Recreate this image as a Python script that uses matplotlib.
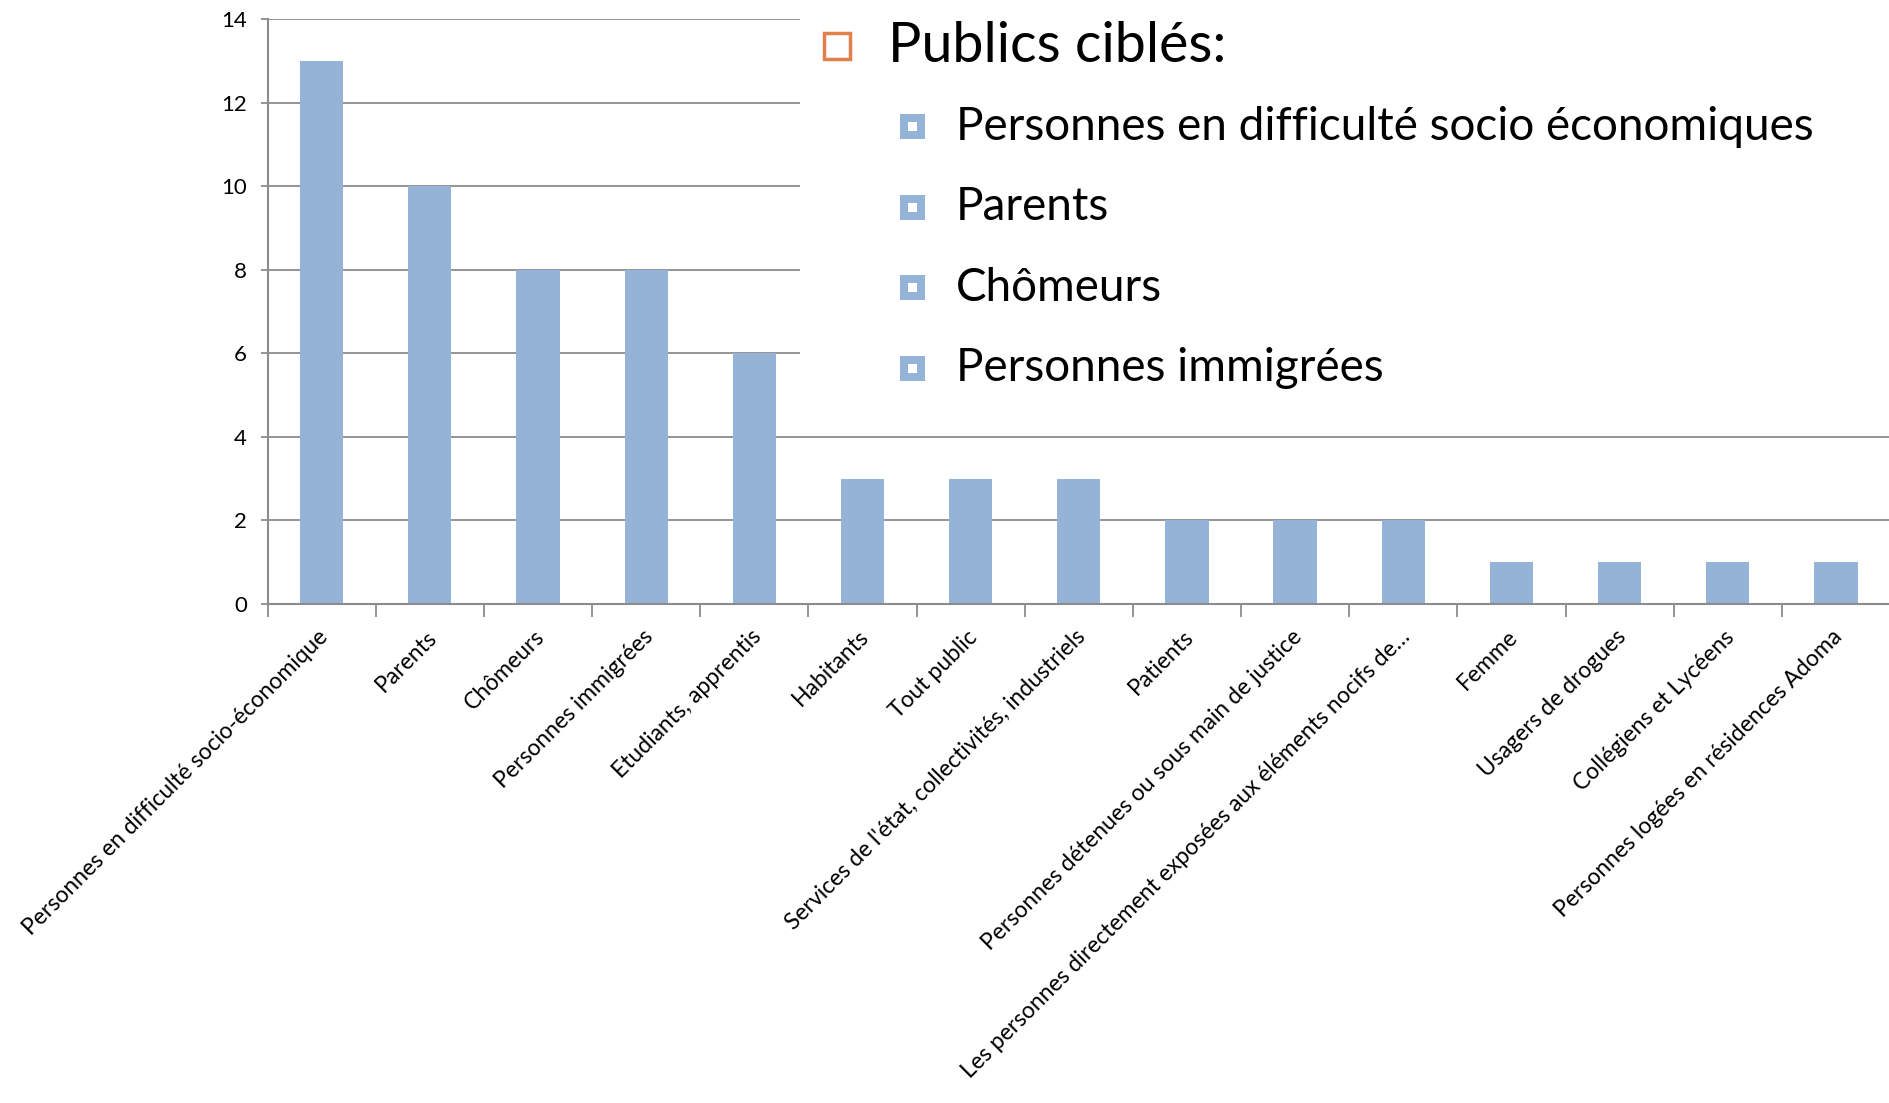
import matplotlib
matplotlib.use("Agg")
import matplotlib.pyplot as plt
from matplotlib.patches import Rectangle
from matplotlib.transforms import ScaledTranslation

plt.rcParams['font.family'] = ['Lato', 'DejaVu Sans']

categories = [
    "Personnes en difficulté socio-économique",
    "Parents",
    "Chômeurs",
    "Personnes immigrées",
    "Etudiants, apprentis",
    "Habitants",
    "Tout public",
    "Services de l'état, collectivités, industriels",
    "Patients",
    "Personnes détenues ou sous main de justice",
    "Les personnes directement exposées aux éléments nocifs de…",
    "Femme",
    "Usagers de drogues",
    "Collégiens et Lycéens",
    "Personnes logées en résidences Adoma",
]
values = [13, 10, 8, 8, 6, 3, 3, 3, 2, 2, 2, 1, 1, 1, 1]
yticks = [0, 2, 4, 6, 8, 10, 12, 14]

title_text = "Publics ciblés:"
bullets = [
    "Personnes en difficulté socio économiques",
    "Parents",
    "Chômeurs",
    "Personnes immigrées",
]

BAR = "#95B3D7"
GRID = "#8C8C8C"
ORANGE = "#E0804A"

fig = plt.figure(figsize=(18.9, 11.03), dpi=100)
ax = fig.add_axes([0.1416, 0.4524, 1 - 0.1416, 0.9825 - 0.4524])

x = list(range(len(categories)))
ax.bar(x, values, width=0.4, color=BAR, zorder=2)
ax.set_xlim(-0.5, len(categories) - 0.5)
ax.set_ylim(0, 14)
ax.set_yticks(yticks)
ax.yaxis.grid(True, color=GRID, linewidth=1.3, zorder=0)
ax.set_axisbelow(True)
for s in ['top', 'right']:
    ax.spines[s].set_visible(False)
for s in ['left', 'bottom']:
    ax.spines[s].set_color(GRID)
    ax.spines[s].set_linewidth(1.5)
ax.tick_params(axis='y', length=5, width=1.3, color=GRID, pad=10, labelsize=16)
ax.set_xticks(x)
ax.set_xticks([i - 0.5 for i in range(len(categories) + 1)], minor=True)
ax.tick_params(axis='x', which='major', length=0, pad=14)
ax.tick_params(axis='x', which='minor', length=9, width=1.3, color=GRID)
ax.set_xticklabels(categories, rotation=45, ha='right', rotation_mode='anchor', fontsize=16.5)
off = ScaledTranslation(-3 / 72, -2 / 72, fig.dpi_scale_trans)
for lbl in ax.get_xticklabels():
    lbl.set_transform(lbl.get_transform() + off)

# white text box covering the upper right part of the chart
fig.patches.append(Rectangle((0.4235, 0.623), 1 - 0.4235, 1 - 0.623,
                             transform=fig.transFigure, facecolor='white',
                             edgecolor='none', zorder=3))

sw, sh = 26 / 1890, 26 / 1103
fig.patches.append(Rectangle((0.4429 - sw / 2, 0.958 - sh / 2), sw, sh,
                             transform=fig.transFigure, facecolor='white',
                             edgecolor=ORANGE, linewidth=2.5, zorder=4))
fig.text(0.4700, 0.958, title_text, fontsize=40, va='center', ha='left', zorder=5)

rows_y = [0.885, 0.812, 0.739, 0.666]
bw, bh = 25 / 1890, 25 / 1103
iw, ih = 9 / 1890, 9 / 1103
for yy, txt in zip(rows_y, bullets):
    fig.patches.append(Rectangle((0.483 - bw / 2, yy - bh / 2), bw, bh,
                                 transform=fig.transFigure, facecolor=BAR,
                                 edgecolor='none', zorder=4))
    fig.patches.append(Rectangle((0.483 - iw / 2, yy - ih / 2), iw, ih,
                                 transform=fig.transFigure, facecolor='white',
                                 edgecolor='none', zorder=5))
    fig.text(0.5058, yy, txt, fontsize=33, va='center', ha='left', zorder=5)

fig.savefig("out.png", dpi=100)
